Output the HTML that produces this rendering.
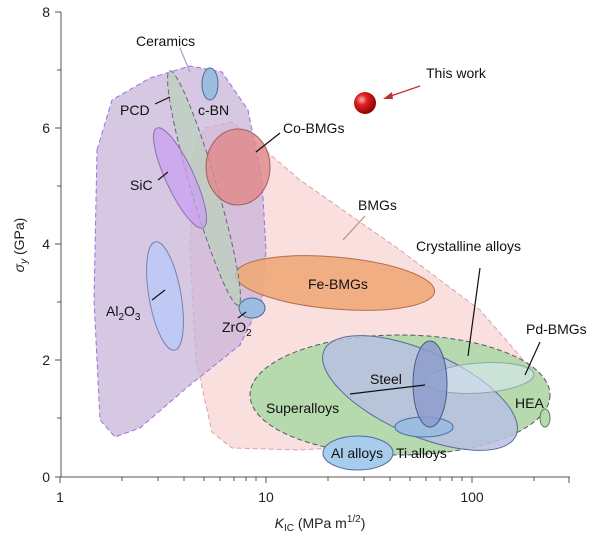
<!DOCTYPE html><html><head><style>body{margin:0;background:#fff}svg{display:block;font-family:"Liberation Sans",sans-serif}</style></head><body>
<svg width="600" height="540" viewBox="0 0 600 540">
<defs><radialGradient id="sp" cx="0.35" cy="0.35" r="0.7"><stop offset="0" stop-color="#ffb0b0"/><stop offset="0.35" stop-color="#e02020"/><stop offset="1" stop-color="#8a0000"/></radialGradient></defs>
<path d="M205,128 L232,122 L300,180 L400,250 L480,310 L545,385 L470,440 L300,450 L232,448 L212,432 L196,360 L190,250 L194,150 Z" fill="#f8d4d4" fill-opacity="0.75" stroke="#e0a0a8" stroke-dasharray="5,3"/>
<path d="M97,150 L112,100 L150,78 L190,66 L222,72 L248,110 L262,180 L266,250 L262,300 L240,345 L190,385 L140,428 L115,437 L100,420 L94,300 Z" fill="#c8b4d8" fill-opacity="0.75" stroke="#9a70e0" stroke-dasharray="5,3"/>
<ellipse cx="400" cy="395" rx="150" ry="60" fill="#b6d9ae" stroke="#556" stroke-dasharray="5,3"/>
<ellipse cx="420" cy="393" rx="105" ry="42" transform="rotate(24 420 393)" fill="#b8bfe0" fill-opacity="0.85" stroke="#5a6a9a"/>
<ellipse cx="480" cy="378" rx="54" ry="15" transform="rotate(-4 480 378)" fill="#d8e8f0" fill-opacity="0.6" stroke="#8aa"/>
<ellipse cx="424" cy="427" rx="29" ry="10" fill="#9bbde0" stroke="#4a6a9a"/>
<ellipse cx="430" cy="384" rx="17" ry="43" fill="#8c9ccc" fill-opacity="0.85" stroke="#4a5a8a"/>
<ellipse cx="358" cy="453" rx="35" ry="17" fill="#a8ccec" stroke="#4a6a9a"/>
<ellipse cx="545" cy="418" rx="5" ry="9" fill="#b6d9ae" stroke="#4a8a4a"/>
<ellipse cx="335" cy="283" rx="100" ry="26" transform="rotate(5 335 283)" fill="#f0a878" fill-opacity="0.9" stroke="#b07050"/>
<ellipse cx="204" cy="188" rx="122" ry="13" transform="rotate(73.7 204 188)" fill="#bcd0bc" fill-opacity="0.75" stroke="#667" stroke-dasharray="5,3"/>
<ellipse cx="180" cy="178" rx="55" ry="14" transform="rotate(65 180 178)" fill="#c8a0f0" fill-opacity="0.75" stroke="#8a70b0"/>
<ellipse cx="165" cy="296" rx="16" ry="55" transform="rotate(-10 165 296)" fill="#c0c8f4" stroke="#7a80b0"/>
<ellipse cx="238" cy="167" rx="32" ry="38" fill="#e08888" fill-opacity="0.8" stroke="#a06060"/>
<ellipse cx="210" cy="84" rx="8" ry="16" fill="#9cbce0" stroke="#4a6a9a"/>
<ellipse cx="252" cy="308" rx="13" ry="10" fill="#9cbce0" stroke="#4a6a9a"/>
<circle cx="365" cy="103" r="11" fill="url(#sp)"/>
<g stroke="#555" fill="none" stroke-width="1">
<path d="M61,12 V477 H570"/>
<path d="M55,12H61M55,128H61M55,244H61M55,360H61M55,477H61M57,70H61M57,186H61M57,302H61M57,418H61"/>
<path d="M60,477v6M266,477v6M472,477v6M122,477v4M158,477v4M184,477v4M204,477v4M220,477v4M234,477v4M246,477v4M256,477v4M328,477v4M364,477v4M390,477v4M410,477v4M426,477v4M440,477v4M452,477v4M462,477v4M534,477v4M569,477v6"/>
</g>
<g font-size="14" fill="#222" text-anchor="end">
<text x="50" y="17">8</text><text x="50" y="133">6</text><text x="50" y="249">4</text><text x="50" y="365">2</text><text x="50" y="482">0</text>
</g>
<g font-size="14" fill="#222" text-anchor="middle">
<text x="60" y="502">1</text><text x="266" y="502">10</text><text x="472" y="502">100</text>
<text x="320" y="528"><tspan font-style="italic">K</tspan><tspan font-size="10" dy="3">IC</tspan><tspan dy="-3"> (MPa m</tspan><tspan font-size="10" dy="-6">1/2</tspan><tspan dy="6">)</tspan></text>
</g>
<text transform="translate(24 245) rotate(-90)" font-size="14" fill="#222" text-anchor="middle"><tspan font-style="italic">σ</tspan><tspan font-size="10" dy="3" font-style="italic">y</tspan><tspan dy="-3"> (GPa)</tspan></text>
<g stroke="#111" stroke-width="1.2" fill="none">
<path d="M155,104 L170,97"/><path d="M158,180 L168,172"/><path d="M152,300 L165,290"/><path d="M256,152 L280,133"/><path d="M468,356 L480,268"/><path d="M525,375 L540,342"/><path d="M350,394 L425,385"/><path d="M238,318 L246,312"/>
<path d="M180,48 L190,72" stroke="#b0a0c0"/><path d="M365,216 L343,240" stroke="#c08888"/>
<path d="M420,86 L388,97" stroke="#c03030"/>
</g>
<path d="M383,99 L392,92 L393,99 Z" fill="#c03030"/>
<g font-size="14" fill="#111">
<text x="136" y="46">Ceramics</text><text x="120" y="115">PCD</text><text x="198" y="115">c-BN</text><text x="130" y="190">SiC</text>
<text x="106" y="316">Al<tspan font-size="10" dy="4">2</tspan><tspan dy="-4">O</tspan><tspan font-size="10" dy="4">3</tspan></text>
<text x="222" y="332">ZrO<tspan font-size="10" dy="4">2</tspan></text>
<text x="283" y="133">Co-BMGs</text><text x="426" y="78">This work</text><text x="358" y="210">BMGs</text>
<text x="416" y="251">Crystalline alloys</text><text x="308" y="289">Fe-BMGs</text><text x="526" y="334">Pd-BMGs</text>
<text x="370" y="384">Steel</text><text x="266" y="413">Superalloys</text><text x="515" y="408">HEA</text>
<text x="331" y="458">Al alloys</text><text x="396" y="458">Ti alloys</text>
</g>
</svg></body></html>
